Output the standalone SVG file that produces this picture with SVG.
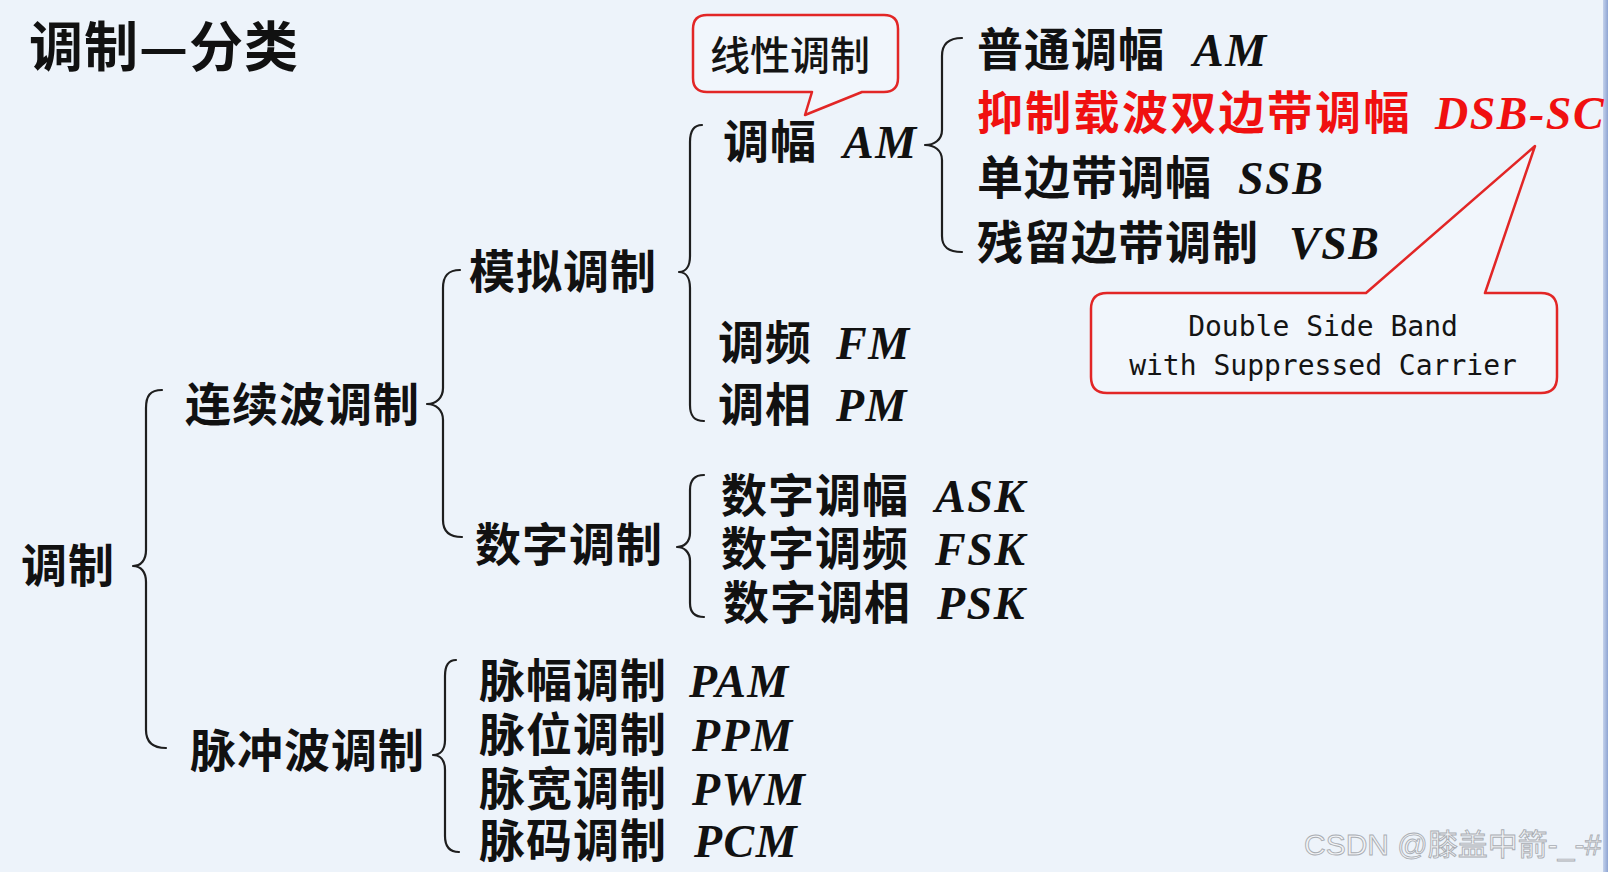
<svg xmlns="http://www.w3.org/2000/svg" width="1608" height="872" viewBox="0 0 1608 872">
  <defs>
    <linearGradient id="edge" x1="0" y1="0" x2="1" y2="0">
      <stop offset="0" stop-color="#c4d2ec"/>
      <stop offset="1" stop-color="#8ea4d2"/>
    </linearGradient>
  </defs>
  <style>
    .cn { font-family: "Noto Sans CJK SC", "Noto Sans", sans-serif; font-size: 46px; font-weight: 700; fill: #111; letter-spacing: 1px; }
    .lat { font-family: "Liberation Serif", "DejaVu Serif", serif; font-style: italic; font-weight: 700; letter-spacing: 1.5px; }
    .red { fill: #f01010; letter-spacing: 2.3px; }
    .title { font-size: 54px; }
    .note { font-family: "Noto Sans CJK SC", sans-serif; font-size: 40px; font-weight: 500; fill: #141414; }
    .mono { font-family: "DejaVu Sans Mono", "Liberation Mono", monospace; font-size: 28px; fill: #141414; }
    .brace { fill: none; stroke: #1e1e1e; stroke-width: 2.2; stroke-linecap: round; stroke-linejoin: round; }
    .callout { fill: #f1f6fc; stroke: #e22626; stroke-width: 2.5; stroke-linejoin: round; }
    .wm { font-family: "Liberation Sans", "Noto Sans CJK SC", sans-serif; font-size: 30px; fill: #f3f4f6; stroke: #a9adb3; stroke-width: 0.9; }
  </style>

  <rect x="0" y="0" width="1608" height="872" fill="#edf3fa"/>
  <rect x="1603" y="0" width="5" height="872" fill="url(#edge)"/>

  <g id="title"><text class="cn title" x="29" y="67">调制—分类</text></g>

  <g id="connectors">
    <path class="brace" d="M162,390 C150,390 146,396 146,408 L146,550 C146,560 141,566 133,566 C141,566 146,572 146,582 L146,730 C146,742 152,748 166,748"/>
    <path class="brace" d="M460,270 C448,270 443,276 443,288 L443,388 C443,398 436,404 427,404 C436,404 443,410 443,420 L443,520 C443,532 450,537 462,537"/>
    <path class="brace" d="M702,125 C694,125 690,131 690,142 L690,256 C690,266 686,272 679,272 C686,272 690,278 690,288 L690,405 C690,416 694,421 704,421"/>
    <path class="brace" d="M962,38 C948,38 942,44 942,56 L942,130 C942,140 934,145 925,145 C934,145 942,150 942,160 L942,236 C942,247 948,252 962,252"/>
    <path class="brace" d="M704,475 C695,475 690,480 690,490 L690,533 C690,542 684,547 677,547 C684,547 690,552 690,561 L690,603 C690,612 695,617 704,617"/>
    <path class="brace" d="M456,660 C448,660 445,666 445,676 L445,740 C445,750 440,755 433,755 C440,755 445,760 445,770 L445,836 C445,846 449,852 459,852"/>
  </g>

  <g id="root"><text class="cn" x="21" y="582">调制</text></g>
  <g id="continuous"><text class="cn" x="185" y="421">连续波调制</text></g>
  <g id="pulse"><text class="cn" x="190" y="767">脉冲波调制</text></g>
  <g id="analog"><text class="cn" x="469" y="288">模拟调制</text></g>
  <g id="digital"><text class="cn" x="475" y="561">数字调制</text></g>

  <g id="am"><text class="cn" x="723" y="158">调幅<tspan class="lat" x="843">AM</tspan></text></g>
  <g id="fm"><text class="cn" x="718" y="359">调频<tspan class="lat" x="836">FM</tspan></text></g>
  <g id="pm"><text class="cn" x="718" y="421">调相<tspan class="lat" x="836">PM</tspan></text></g>

  <g id="am-normal"><text class="cn" x="977" y="66">普通调幅<tspan class="lat" x="1193">AM</tspan></text></g>
  <g id="dsb-sc"><text class="cn red" x="977" y="129">抑制载波双边带调幅<tspan class="lat" x="1435">DSB-SC</tspan></text></g>
  <g id="ssb"><text class="cn" x="977" y="194">单边带调幅<tspan class="lat" x="1238">SSB</tspan></text></g>
  <g id="vsb"><text class="cn" x="977" y="259">残留边带调制<tspan class="lat" x="1289">VSB</tspan></text></g>

  <g id="ask"><text class="cn" x="721" y="512">数字调幅<tspan class="lat" x="935">ASK</tspan></text></g>
  <g id="fsk"><text class="cn" x="721" y="565">数字调频<tspan class="lat" x="935">FSK</tspan></text></g>
  <g id="psk"><text class="cn" x="723" y="619">数字调相<tspan class="lat" x="937">PSK</tspan></text></g>

  <g id="pam"><text class="cn" x="479" y="697">脉幅调制<tspan class="lat" x="689">PAM</tspan></text></g>
  <g id="ppm"><text class="cn" x="479" y="751">脉位调制<tspan class="lat" x="692">PPM</tspan></text></g>
  <g id="pwm"><text class="cn" x="479" y="805">脉宽调制<tspan class="lat" x="692">PWM</tspan></text></g>
  <g id="pcm"><text class="cn" x="479" y="857">脉码调制<tspan class="lat" x="694">PCM</tspan></text></g>

  <g id="callout-linear">
    <path class="callout" d="M707,15 H884 Q898,15 898,29 V78 Q898,92 884,92 H862 L805,115 L812,92 H707 Q693,92 693,78 V29 Q693,15 707,15 Z"/>
    <text class="note" x="710" y="70">线性调制</text>
  </g>

  <g id="callout-dsb">
    <path class="callout" d="M1107,293 H1366 L1535,146 L1485,293 H1541 Q1557,293 1557,309 V377 Q1557,393 1541,393 H1107 Q1091,393 1091,377 V309 Q1091,293 1107,293 Z"/>
    <text class="mono" x="1323" y="336" text-anchor="middle">Double Side Band</text>
    <text class="mono" x="1323" y="375" text-anchor="middle">with Suppressed Carrier</text>
  </g>

  <text class="wm" x="1304" y="855">CSDN @膝盖中箭-_-#</text>
</svg>
